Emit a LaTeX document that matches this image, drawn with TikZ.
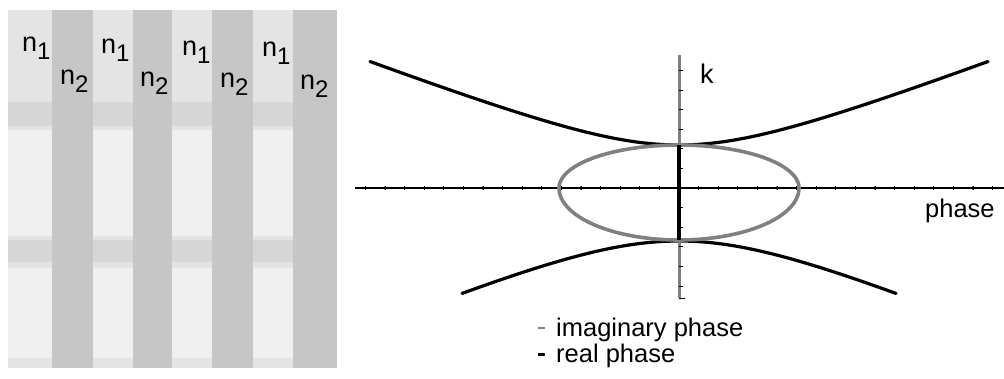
\documentclass[tikz,border=0pt]{standalone}
\usepackage{fontspec}
\setmainfont{Liberation Sans}
\definecolor{darkstripe}{HTML}{C6C6C6}
\definecolor{lightstripe}{HTML}{E4E4E4}
\definecolor{bandgray}{HTML}{D6D6D6}
\definecolor{whitepatch}{HTML}{EFEFEF}
\definecolor{curvegray}{HTML}{808080}
\newcommand{\nlab}[1]{n\raisebox{-8pt}{\fontsize{24}{26}\selectfont #1}}
\begin{document}
\begin{tikzpicture}[x=1pt,y=-1pt,
  lbl/.style={font=\fontsize{27}{30}\selectfont, inner sep=0pt, anchor=base west},
  txt/.style={font=\fontsize{25.5}{28}\selectfont, inner sep=0pt, anchor=base west},
  axisline/.style={line width=1.3pt, black},
  tickline/.style={line width=0.8pt, black},
  imagline/.style={line width=3.6pt, curvegray},
  realline/.style={line width=3.2pt, black, line cap=round},
]
\useasboundingbox (0,0) rectangle (1004,378);
% ---------- left panel: layered medium ----------
\fill[lightstripe] (8,10) rectangle (337,368);
\foreach \a/\b in {8/52,93/133,172/212,253/293}{
  \fill[whitepatch] (\a,130) rectangle (\b,236);
  \fill[whitepatch] (\a,268) rectangle (\b,358);
  \fill[bandgray] (\a,102) rectangle (\b,126);
  \fill[bandgray] (\a,240) rectangle (\b,262);
}
\foreach \a/\b in {52/93,133/172,212/253,293/337}
  \fill[darkstripe] (\a,10) rectangle (\b,368);
\node[lbl] (n1a) at (22,51) {\nlab{1}};
\node[lbl] (n1b) at (101,53) {\nlab{1}};
\node[lbl] (n1c) at (182,55) {\nlab{1}};
\node[lbl] (n1d) at (262,56) {\nlab{1}};
\node[lbl] (n2a) at (60,84) {\nlab{2}};
\node[lbl] (n2b) at (140,86) {\nlab{2}};
\node[lbl] (n2c) at (220,87) {\nlab{2}};
\node[lbl] (n2d) at (300,89) {\nlab{2}};
% ---------- right panel: dispersion plot ----------
\coordinate (xl) at (355,188);
\coordinate (xr) at (1004,188);
\coordinate (yt) at (679,55);
\coordinate (yb) at (679,298);
\coordinate (ybt) at (685,298);
\coordinate (kt) at (679,145);
\coordinate (kb) at (679,240);
% hyperbola branches (real phase)
\draw[line width=3.2pt, line cap=round]
  plot[domain=-309:309, samples=101, smooth] ({679+\x}, {188-10*sqrt(18.49+(0.0385*\x)^2)});
\draw[line width=3.2pt, line cap=round]
  plot[domain=-217:217, samples=81, smooth] ({679+\x}, {188+10*sqrt(28.09+(0.042*\x)^2)});
% horizontal axis
\draw[axisline] (xl) -- (xr);
\foreach \i in {-16,...,16}
  \draw[tickline] ({679+19.6*\i},186.3) -- ({679+19.6*\i},189.7);
\foreach \i in {-3,...,3}
  \fill ({679+98*\i},188) circle[radius=1.8];
% ellipse (imaginary phase)
\draw[imagline] plot[domain=0:180, samples=61, smooth] ({679+120*cos(\x)}, {188-43*sin(\x)});
\draw[imagline] plot[domain=0:180, samples=61, smooth] ({679+120*cos(\x)}, {188+52*sin(\x)});
% vertical axis
\draw[imagline, line width=3pt] (yt) -- (yb);
\draw[tickline] (yb) -- (ybt);
\foreach \i in {-6,...,5}
  \draw[tickline] (679,{188+19.6*\i}) -- (682.5,{188+19.6*\i});
\draw[realline, line cap=butt, line width=3.6pt] (kt) -- (kb);
% labels
\node[lbl] (klab) at (700,83) {k};
\node[txt] (phlab) at (925,217) {phase};
% legend
\coordinate (l1a) at (538,328);
\coordinate (l1b) at (545,328);
\coordinate (l2a) at (538,354);
\coordinate (l2b) at (545,354);
\draw[curvegray, line width=2pt] (l1a) -- (l1b);
\draw[black, line width=3pt] (l2a) -- (l2b);
\node[txt] (leg1) at (556,336) {imaginary phase};
\node[txt] (leg2) at (556,362) {real phase};
\end{tikzpicture}
\end{document}
